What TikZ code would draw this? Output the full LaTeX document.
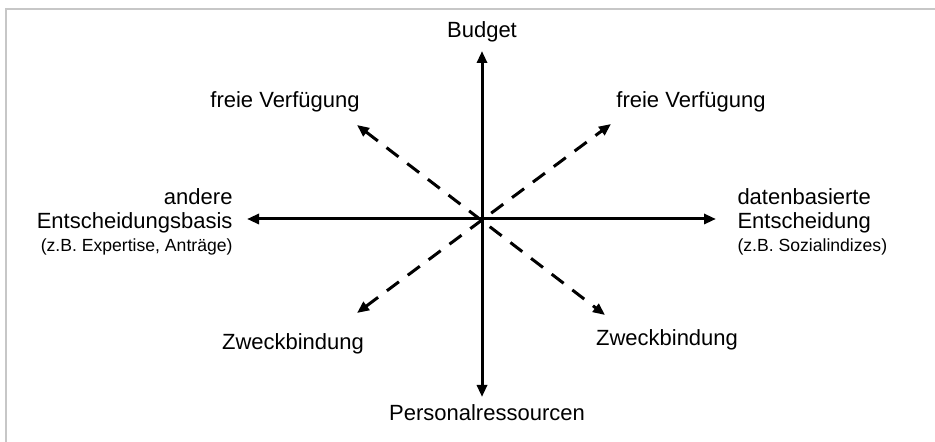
\documentclass[tikz,border=0pt]{standalone}
\usepackage{fontspec}
\setmainfont{Liberation Sans}
\usetikzlibrary{arrows.meta}

\begin{document}
\begin{tikzpicture}[x=0.5pt, y=-0.5pt, line width=1.5pt,
  lbl/.style={font=\fontsize{11}{13}\selectfont, inner sep=0pt},
  sml/.style={font=\fontsize{8.8}{10}\selectfont, inner sep=0pt},
  axis/.style={{Triangle[length=6pt,width=5pt]}-{Triangle[length=6pt,width=5pt]}},
  diag/.style={axis, dash pattern=on 7.5pt off 5.5pt}]

\useasboundingbox (0,0) rectangle (935,442);

% Frame
\draw[black!22, line width=1pt] (6,442) -- (6,9) -- (935,9);

% Coordinates
\coordinate (top)   at (482,51);
\coordinate (bot)   at (482,397);
\coordinate (left)  at (247,219);
\coordinate (right) at (716,219);
\coordinate (ul)    at (357,125);
\coordinate (lr)    at (605,315);
\coordinate (ur)    at (611,124);
\coordinate (ll)    at (357,313);

% Axes
\draw[axis] (bot) -- (top);
\draw[axis] (left) -- (right);

% Dashed diagonals
\draw[diag] (ul) -- (lr);
\draw[diag] (ll) -- (ur);

% Labels
\node[lbl] (budget) at (482,32) {Budget};
\node[lbl] (fvl) at (285,102) {freie Verfügung};
\node[lbl] (fvr) at (691,102) {freie Verfügung};
\node[lbl, anchor=east] (andere) at (234,197) {andere};
\node[lbl, anchor=east] (basis)  at (234,223) {Entscheidungsbasis};
\node[sml, anchor=east] (bspl)   at (234,247) {(z.B. Expertise, Anträge)};
\node[lbl, anchor=west] (daten)  at (736,197) {datenbasierte};
\node[lbl, anchor=west] (entsch) at (736,223) {Entscheidung};
\node[sml, anchor=west] (bspr)   at (736,247) {(z.B. Sozialindizes)};
\node[lbl] (zbl)  at (293,344) {Zweckbindung};
\node[lbl] (zbr)  at (667,340) {Zweckbindung};
\node[lbl] (pers) at (487,413) {Personalressourcen};

\end{tikzpicture}
\end{document}
